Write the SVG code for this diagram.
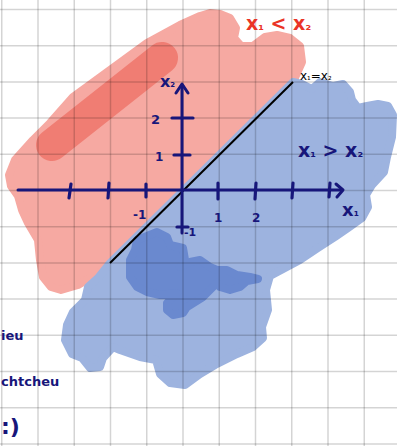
<svg xmlns="http://www.w3.org/2000/svg" width="397" height="446" viewBox="0 0 397 446">
<style>
.grid line{stroke:#000;stroke-opacity:0.17;stroke-width:1.5}
.ax{stroke:#17167a;stroke-width:3;stroke-linecap:round;fill:none;stroke-linejoin:round}
.tk{stroke:#17167a;stroke-width:3.2;stroke-linecap:round}
.lbl{font-family:"DejaVu Sans","Liberation Sans",sans-serif;font-weight:bold;fill:#17167a}
</style>
<rect width="397" height="446" fill="#fff"/>
<g id="regions">
<path id="red-region" fill="#f6a9a2" stroke="#f6a9a2" stroke-width="8" stroke-linejoin="round" d="M293,82 L302,62 L300,46 L290,38 L277,35 L265,37 L253,46 L241,46 L234,38 L236,28 L230,18 L220,14 L210,13 L200,16 L180,25 L147,43 L110,70 L73,97 L50,123 L33,140 L15,160 L9,175 L11,186 L18,196 L22,210 L28,223 L38,240 L40,260 L43,277 L51,287 L61,290 L78,285 L100,272 L110,263 Z"/>
<line x1="52" y1="145" x2="162" y2="58" stroke="#ef766b" stroke-opacity="0.85" stroke-width="32" stroke-linecap="round"/>
<path id="blue-region" fill="#9db3df" stroke="#9db3df" stroke-width="8" stroke-linejoin="round" d="M110,263 L293,82 L302,84 L312,89 L320,82 L333,86 L343,84 L350,92 L352,100 L358,108 L367,106 L378,104 L388,106 L393,115 L392,137 L387,157 L384,172 L372,185 L366,195 L368,207 L362,218 L348,228 L335,237 L318,248 L300,260 L285,268 L270,276 L266,290 L268,310 L262,327 L263,338 L253,347 L237,354 L215,365 L200,374 L185,385 L170,383 L160,374 L156,360 L140,357 L120,350 L113,347 L103,358 L100,367 L90,368 L82,358 L72,354 L65,340 L67,325 L73,312 L85,300 L88,287 L98,278 Z"/>
<path id="blue-dark" fill="#6a89cf" stroke="#6a89cf" stroke-width="8" stroke-linejoin="round" d="M137,240 L157,232 L167,237 L170,245 L183,248 L185,260 L180,267 L190,262 L200,260 L210,267 L217,270 L227,270 L237,275 L250,277 L258,279 L247,281 L240,287 L230,290 L220,287 L217,283 L203,297 L187,307 L183,313 L173,315 L167,310 L167,303 L177,293 L160,295 L147,292 L137,287 L130,277 L130,260 L135,250 Z"/>
</g>
<g class="grid">
<line x1="1.75" y1="0" x2="1.75" y2="446"/><line x1="38" y1="0" x2="38" y2="446"/><line x1="74.25" y1="0" x2="74.25" y2="446"/><line x1="110.5" y1="0" x2="110.5" y2="446"/><line x1="146.75" y1="0" x2="146.75" y2="446"/><line x1="183" y1="0" x2="183" y2="446"/><line x1="219.25" y1="0" x2="219.25" y2="446"/><line x1="255.5" y1="0" x2="255.5" y2="446"/><line x1="291.75" y1="0" x2="291.75" y2="446"/><line x1="328" y1="0" x2="328" y2="446"/><line x1="364.25" y1="0" x2="364.25" y2="446"/>
<line x1="0" y1="9.5" x2="397" y2="9.5"/><line x1="0" y1="45.7" x2="397" y2="45.7"/><line x1="0" y1="81.9" x2="397" y2="81.9"/><line x1="0" y1="118.1" x2="397" y2="118.1"/><line x1="0" y1="154.3" x2="397" y2="154.3"/><line x1="0" y1="190.5" x2="397" y2="190.5"/><line x1="0" y1="226.7" x2="397" y2="226.7"/><line x1="0" y1="262.9" x2="397" y2="262.9"/><line x1="0" y1="299.1" x2="397" y2="299.1"/><line x1="0" y1="335.3" x2="397" y2="335.3"/><line x1="0" y1="371.5" x2="397" y2="371.5"/><line x1="0" y1="407.7" x2="397" y2="407.7"/><line x1="0" y1="443.9" x2="397" y2="443.9"/>
</g>
<g id="boundary">
<line x1="110" y1="263" x2="293" y2="82" stroke="#000" stroke-width="2"/>
</g>
<g id="axes">
<line class="ax" x1="18" y1="190" x2="340" y2="190"/>
<polyline class="ax" points="336,184 343,190 337,197"/>
<line class="ax" x1="182" y1="86" x2="182" y2="233"/>
<polyline class="ax" points="176,93 182,84 188,93"/>
<line class="tk" x1="71" y1="184" x2="69" y2="198"/>
<line class="tk" x1="109" y1="183" x2="108" y2="198"/>
<line class="tk" x1="146" y1="184" x2="146" y2="197"/>
<line class="tk" x1="218" y1="183" x2="218" y2="199"/>
<line class="tk" x1="256" y1="183" x2="255" y2="199"/>
<line class="tk" x1="293" y1="183" x2="292" y2="198"/>
<line class="tk" x1="330" y1="183" x2="329" y2="197"/>
<line class="tk" x1="172" y1="118" x2="193" y2="118"/>
<line class="tk" x1="174" y1="155" x2="190" y2="155"/>
<line class="tk" x1="177" y1="227" x2="188" y2="227"/>
</g>
<g id="labels">
<text class="lbl" x="160" y="87" font-size="16">x<tspan font-size="11">₂</tspan></text>
<text class="lbl" x="342" y="216" font-size="18">x<tspan font-size="12">₁</tspan></text>
<text class="lbl" x="151" y="124" font-size="13">2</text>
<text class="lbl" x="155" y="161" font-size="12">1</text>
<text class="lbl" x="133" y="219" font-size="12">-1</text>
<text class="lbl" x="214" y="222" font-size="12">1</text>
<text class="lbl" x="252" y="222" font-size="12">2</text>
<text class="lbl" x="184" y="236" font-size="11">-1</text>
<text class="lbl" x="298" y="157" font-size="19">x<tspan font-size="13">₁</tspan> &gt; x<tspan font-size="13">₂</tspan></text>
<text x="246" y="30" font-family="DejaVu Sans, sans-serif" font-weight="bold" font-size="19" fill="#ea3426">x<tspan font-size="13">₁</tspan> &lt; x<tspan font-size="13">₂</tspan></text>
<text x="300" y="80" font-family="DejaVu Sans, sans-serif" font-size="12" fill="#000">x<tspan font-size="9">₁</tspan>=x<tspan font-size="9">₂</tspan></text>
<text class="lbl" x="1" y="340" font-size="13">ieu</text>
<text class="lbl" x="1" y="386" font-size="13">chtcheu</text>
<text class="lbl" x="1" y="434" font-size="22">:)</text>
</g>
</svg>
